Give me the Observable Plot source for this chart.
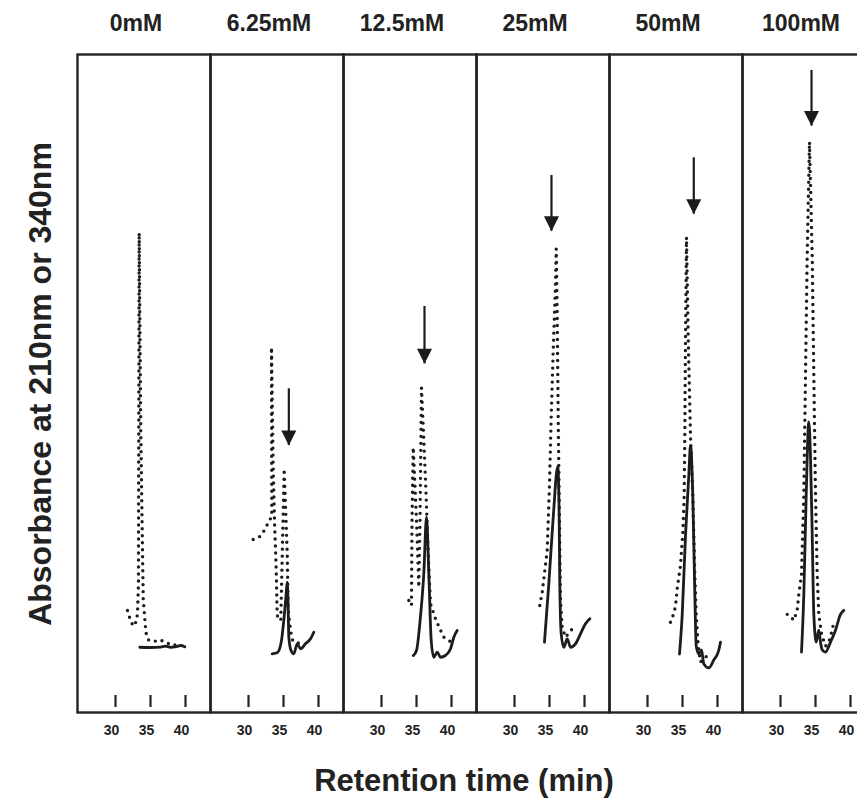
<!DOCTYPE html>
<html><head><meta charset="utf-8">
<script src="https://cdn.jsdelivr.net/npm/d3@7"></script>
<script src="https://cdn.jsdelivr.net/npm/@observablehq/plot@0.6"></script>
<style>
html,body{margin:0;padding:0;background:#fff;overflow:hidden;}
#wrap{position:relative;width:857px;height:798px;overflow:hidden;font-family:"Liberation Sans",Arial,sans-serif;color:#222;}
#wrap svg{max-width:none !important;display:block;}
.ytitle{position:absolute;left:40px;top:383.5px;transform:translate(-50%,-50%) rotate(-90deg);white-space:nowrap;font-size:32px;font-weight:bold;line-height:1;}
.xtitle{position:absolute;left:464px;top:765px;transform:translateX(-50%);white-space:nowrap;font-size:31px;font-weight:bold;line-height:1;}
</style></head><body><div id="wrap"><div class="ytitle">Absorbance at 210nm or 340nm</div><div class="xtitle">Retention time (min)</div></div>
<script>
const conc = ["0mM","6.25mM","12.5mM","25mM","50mM","100mM"];
const xTicks = [30, 35, 40];

// 210 nm traces (dotted) : [retention time (min), absorbance]
const a210_0mM = [[31.71,15.50],[32.04,14.33],[32.53,13.12],[33.00,13.88],[33.14,15.09],[33.28,19.56],[33.38,72.90],[33.61,42.36],[33.96,17.28],[34.24,13.48],[34.33,12.20],[34.67,11.05],[35.47,10.79],[36.33,11.05],[38.24,10.18],[39.33,10.53]];
const a210_6mM = [[30.67,26.29],[31.71,26.79],[32.33,27.81],[32.90,29.03],[33.33,29.79],[33.28,55.52],[33.53,37.28],[33.71,29.18],[33.96,21.58],[34.10,14.74],[34.61,13.98],[35.10,37.04],[35.53,24.12],[35.67,15.50],[36.00,12.46],[36.33,10.84],[37.53,10.44]];
const a210_12mM = [[33.90,17.02],[34.28,16.26],[34.36,29.18],[34.53,40.32],[35.00,29.18],[35.33,19.04],[35.50,29.18],[35.71,49.35],[36.29,35.26],[36.71,23.10],[37.00,16.52],[37.71,14.24],[38.33,12.72],[38.90,11.44],[39.76,10.84]];
const a210_25mM = [[33.61,16.26],[33.96,18.28],[34.67,24.62],[35.00,34.76],[35.24,44.88],[35.53,55.02],[35.86,65.15],[35.96,70.47],[36.10,60.08],[36.24,44.88],[36.33,37.28],[36.47,24.62],[36.57,17.02],[36.81,12.96],[37.28,11.44],[37.86,12.20],[38.47,12.96]];
const a210_50mM = [[33.28,13.72],[33.53,14.32],[34.00,16.11],[34.24,18.84],[34.71,22.34],[35.07,27.66],[35.24,33.02],[35.33,42.10],[35.43,57.16],[35.57,72.23],[35.81,57.16],[36.14,42.10],[36.47,33.02],[36.76,20.97],[36.96,14.92],[37.24,10.09],[37.57,7.69],[38.19,8.28],[39.00,9.19]];
const a210_100mM = [[30.96,14.92],[31.43,14.62],[31.90,14.01],[32.38,15.53],[32.61,17.93],[33.00,20.97],[33.33,33.02],[33.57,51.12],[33.81,69.22],[34.14,86.72],[34.53,69.22],[34.76,51.12],[35.00,33.02],[35.24,20.97],[35.47,14.92],[35.86,11.90],[36.43,10.09],[36.90,10.70],[37.38,12.51],[37.61,13.72]];

// 340 nm traces (solid)
const a340_0mM = [[33.47,9.92],[35.00,9.88],[36.43,9.95],[37.14,10.10],[37.86,9.92],[38.71,10.03],[39.30,10.18],[39.90,9.98]];
const a340_6mM = [[33.38,8.92],[34.14,9.12],[34.71,10.94],[35.04,13.98],[35.36,17.78],[35.53,19.80],[35.64,17.02],[35.76,11.44],[36.07,9.42],[36.47,8.92],[36.96,10.44],[37.43,9.68],[38.14,10.44],[38.86,11.20],[39.33,12.20]];
const a340_12mM = [[34.53,8.66],[35.00,9.42],[35.47,13.48],[36.04,21.08],[36.43,29.68],[36.76,21.08],[37.10,10.94],[37.47,8.40],[37.96,9.16],[38.43,8.40],[39.14,8.66],[39.86,9.68],[40.33,11.44],[40.81,12.46]];
const a340_25mM = [[34.28,10.68],[34.90,19.56],[35.53,29.68],[36.18,37.39],[36.38,29.68],[36.47,19.56],[36.67,11.96],[37.04,9.92],[37.53,11.20],[38.00,9.92],[38.71,10.44],[39.43,11.96],[40.14,13.48],[40.76,14.24]];
const a340_50mM = [[34.57,8.89],[34.96,14.92],[35.43,26.99],[35.90,36.03],[36.14,40.58],[36.47,33.02],[36.76,17.95],[36.96,10.09],[37.33,8.89],[37.71,9.50],[38.04,7.39],[38.76,6.78],[39.47,7.98],[40.19,9.50],[40.43,10.70]];
const a340_100mM = [[33.00,9.19],[33.33,17.93],[33.67,33.02],[34.04,44.18],[34.28,39.06],[34.53,26.99],[34.76,14.92],[35.10,10.70],[35.47,12.51],[35.71,10.70],[35.96,9.50],[36.43,9.19],[37.14,10.70],[37.86,12.51],[38.57,14.92],[39.04,15.53]];

// arrows marking the peak
const arrowConc = ["6.25mM","12.5mM","25mM","50mM","100mM"];
const arrowTime = [35.76, 36.14, 35.28, 36.61, 34.43];
const arrowTop  = [49.19, 61.70, 81.61, 84.30, 97.58];
const arrowTip  = [40.58, 52.99, 73.15, 75.74, 89.13];

const series = (arr, c) => arr.map(([t, v]) => ({c, t, v}));
const dotted = [
  ...series(a210_0mM, conc[0]), ...series(a210_6mM, conc[1]), ...series(a210_12mM, conc[2]),
  ...series(a210_25mM, conc[3]), ...series(a210_50mM, conc[4]), ...series(a210_100mM, conc[5])
];
const solid = [
  ...series(a340_0mM, conc[0]), ...series(a340_6mM, conc[1]), ...series(a340_12mM, conc[2]),
  ...series(a340_25mM, conc[3]), ...series(a340_50mM, conc[4]), ...series(a340_100mM, conc[5])
];
const arrows = arrowConc.map((c, i) => ({c, t: arrowTime[i], top: arrowTop[i], tip: arrowTip[i]}));

const arrowHead = {
  draw(context) {
    context.moveTo(-7.5, -15);
    context.lineTo(7.5, -15);
    context.lineTo(0, 0);
    context.closePath();
  }
};

const ink = "#1c1c1c";
const chart = Plot.plot({
  width: 875,
  height: 798,
  marginLeft: 77,
  marginRight: 0,
  marginTop: 54,
  marginBottom: 86,
  style: "font-family: 'Liberation Sans', Arial, sans-serif; background: white; color: #222; max-width: none; overflow: visible;",
  fx: {domain: conc, padding: 0, axis: null},
  x: {domain: [24.57, 43.57], axis: null},
  y: {domain: [0, 100], axis: null},
  marks: [
    Plot.frame({stroke: "#222", strokeWidth: 2.4}),
    Plot.ruleX(xTicks, {x: d => d, insetTop: 641, insetBottom: 5, stroke: "#222", strokeWidth: 2.2}),
    Plot.text(xTicks, {x: d => d, text: d => String(d), frameAnchor: "bottom", dy: 22, dx: -4, fontSize: 14, fontWeight: "bold", fill: "#222"}),
    Plot.text(conc, {fx: d => d, text: d => d, frameAnchor: "top", dy: -40, dx: -8, fontSize: 23, fontWeight: "bold", fill: "#222"}),
    Plot.line(dotted, {fx: "c", x: "t", y: "v", stroke: ink, strokeWidth: 3.4, strokeDasharray: "0,7", strokeLinecap: "round"}),
    Plot.line(solid, {fx: "c", x: "t", y: "v", stroke: ink, strokeWidth: 2.8, curve: "monotone-x"}),
    Plot.ruleX(arrows, {fx: "c", x: "t", y1: "top", y2: "tip", stroke: ink, strokeWidth: 2.2}),
    Plot.dot(arrows, {fx: "c", x: "t", y: "tip", symbol: arrowHead, r: 7.5, fill: ink, stroke: "none"})
  ]
});
document.getElementById("wrap").prepend(chart);
</script></body></html>
